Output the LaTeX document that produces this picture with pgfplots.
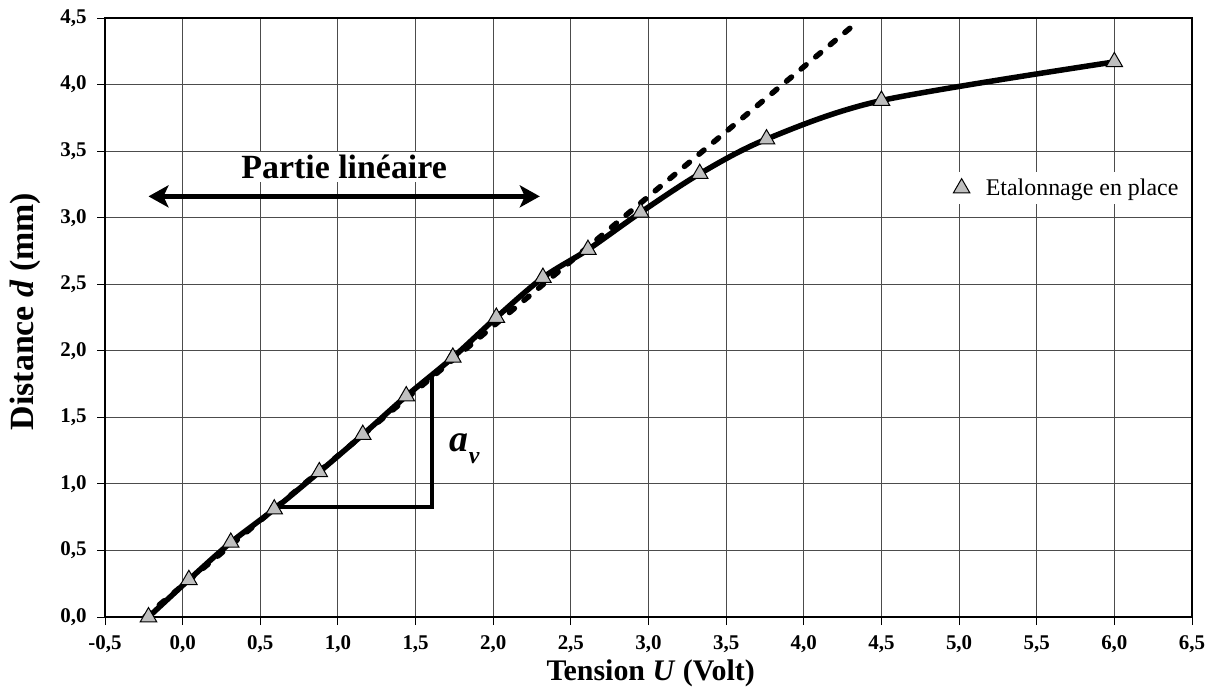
\documentclass[border=0pt]{standalone}
\usepackage{fontspec}
\setmainfont{Liberation Serif}
\usepackage{pgfplots}
\pgfplotsset{compat=1.18}
\usetikzlibrary{arrows.meta}

\begin{document}
\begin{tikzpicture}
\begin{axis}[
  name=ax,
  scale only axis,
  width=1087bp, height=599bp,
  xmin=-0.5, xmax=6.5, ymin=0, ymax=4.5,
  xtick={-0.5,0,0.5,1,1.5,2,2.5,3,3.5,4,4.5,5,5.5,6,6.5},
  ytick={0,0.5,1,1.5,2,2.5,3,3.5,4,4.5},
  grid=major,
  major grid style={draw=black!70, line width=0.9bp},
  axis line style={line width=1.6bp},
  tick align=outside, major tick length=8bp,
  tick pos=left,
  tick style={line width=0.9bp, black},
  clip=false,
  /pgf/number format/use comma,
  /pgf/number format/fixed,
  /pgf/number format/fixed zerofill,
  /pgf/number format/precision=1,
  /pgf/number format/assume math mode=true,
  ticklabel style={font=\fontsize{21}{23}\selectfont\bfseries},
  xticklabel style={yshift=-7bp},
  yticklabel style={xshift=-7bp},
  xlabel={Tension \textit{U} (Volt)},
  ylabel={Distance \textit{d} (mm)},
  x label style={at={(axis description cs:0.502,-0.0935)}, anchor=center,
    font=\fontsize{30}{34}\selectfont\bfseries},
  y label style={at={(axis description cs:-0.0736,0.51)}, anchor=center,
    font=\fontsize{34}{36}\selectfont\bfseries},
  legend style={at={(0.995,0.716)}, anchor=east, draw=none, fill=white,
    font=\fontsize{24}{26}\selectfont, inner xsep=6bp, inner ysep=5bp},
  legend cell align=left,
]
\pgfplotstableread{
x y
-0.22 0.00
0.04 0.28
0.31 0.56
0.59 0.81
0.88 1.09
1.16 1.37
1.44 1.66
1.74 1.95
2.02 2.25
2.32 2.55
2.61 2.76
2.95 3.04
3.33 3.33
3.76 3.59
4.50 3.88
6.00 4.17
}\datatable

\addplot[line width=5.5bp, black, dash pattern=on 6.5bp off 12.5bp, line cap=round, forget plot]
  coordinates {(-0.244,0) (4.297,4.423)};
\addplot[line width=5.5bp, black, smooth, forget plot] table {\datatable};

\draw[line width=4.5bp] (axis cs:0.61,0.826) -- (axis cs:1.605,0.826) -- (axis cs:1.605,1.80);

\addplot[only marks, black, mark=triangle*, mark size=9.5bp,
  mark options={fill=black!25, draw=black, line width=1bp}] table {\datatable};
\addlegendentry{\hspace{14bp}Etalonnage en place}

\draw[line width=5bp, {Stealth[length=20bp,width=22bp,inset=5bp]}-{Stealth[length=20bp,width=22bp,inset=5bp]}]
  (axis cs:-0.22,3.16) -- (axis cs:2.30,3.16);
\node[fill=white, inner sep=3bp, font=\fontsize{34}{38}\selectfont\bfseries]
  at (axis cs:1.04,3.38) {Partie linéaire};
\node[anchor=base west, inner sep=0pt, font=\fontsize{38}{40}\selectfont\bfseries\itshape]
  at (axis cs:1.72,1.24) {a\raisebox{-0.3em}{\fontsize{24}{26}\selectfont v}};
\end{axis}
\pgfresetboundingbox
\path[use as bounding box] ([shift={(-105bp,-72bp)}]ax.south west) rectangle ([shift={(22bp,18bp)}]ax.north east);
\end{tikzpicture}
\end{document}
